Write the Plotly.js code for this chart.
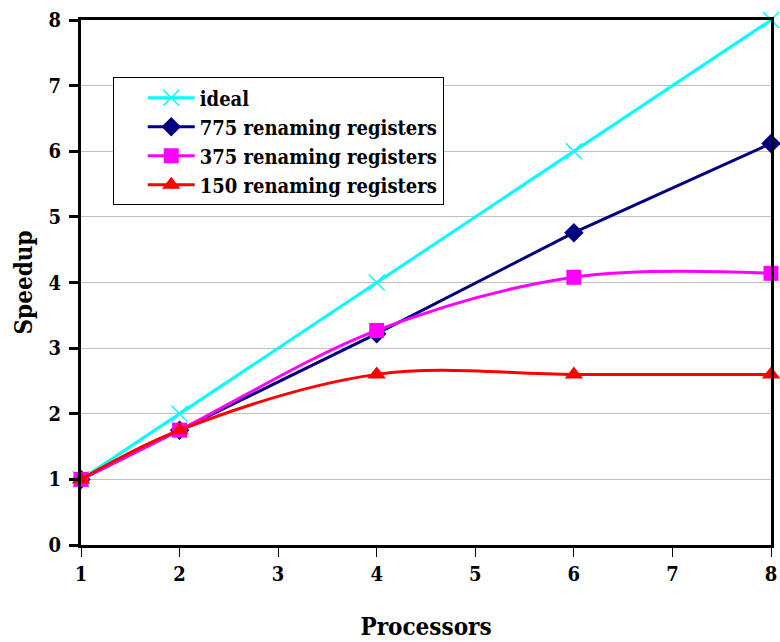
<!DOCTYPE html>
<html>
<head>
<meta charset="utf-8">
<script src="https://cdn.plot.ly/plotly-3.0.1.min.js"></script>
<style>
  html, body { margin: 0; padding: 0; background: #fff; }
  #chart { width: 780px; height: 642px; }
</style>
</head>
<body>
<div id="chart"></div>
<script>
// Processor counts measured
const processors = [1, 2, 4, 6, 8];

// Speedup per configuration
const idealSpeedup = [1, 2, 4, 6, 8];
const speedup775 = [1, 1.75, 3.22, 4.76, 6.12];
const speedup375 = [1, 1.75, 3.27, 4.08, 4.14];
const speedup150 = [1, 1.75, 2.60, 2.60, 2.60];

const seriesNames = [
  'ideal',
  '775 renaming registers',
  '375 renaming registers',
  '150 renaming registers'
];

const xTicks = [1, 2, 3, 4, 5, 6, 7, 8];
const yTicks = [0, 1, 2, 3, 4, 5, 6, 7, 8];

const serif = "'DejaVu Serif Condensed', 'DejaVu Serif', serif";

const traces = [
  {
    x: processors, y: idealSpeedup, name: seriesNames[0],
    mode: 'lines+markers', cliponaxis: false,
    line: { color: '#00FFFF', width: 3 },
    marker: { symbol: 'x-thin', size: 16, line: { color: '#00FFFF', width: 1.5 } }
  },
  {
    x: processors, y: speedup775, name: seriesNames[1],
    mode: 'lines+markers', cliponaxis: false,
    line: { color: '#000080', width: 3 },
    marker: { symbol: 'diamond', size: 15, color: '#000080' }
  },
  {
    x: processors, y: speedup375, name: seriesNames[2],
    mode: 'lines+markers', cliponaxis: false,
    line: { color: '#FF00FF', width: 3, shape: 'spline', smoothing: 1 },
    marker: { symbol: 'square', size: 15, color: '#FF00FF' }
  },
  {
    x: processors, y: speedup150, name: seriesNames[3],
    mode: 'lines+markers', cliponaxis: false,
    line: { color: '#FF0000', width: 3, shape: 'spline', smoothing: 1 },
    marker: { symbol: 'triangle-up', size: 16, color: '#FF0000' }
  }
];

const layout = {
  width: 780, height: 642,
  margin: { l: 81, r: 9, t: 20, b: 97 },
  paper_bgcolor: '#ffffff',
  plot_bgcolor: '#ffffff',
  font: { family: serif, color: '#000' },
  showlegend: true,
  legend: {
    x: 0.046, y: 0.891, xanchor: 'left', yanchor: 'top',
    bgcolor: '#ffffff', bordercolor: '#000', borderwidth: 1,
    font: { family: serif, size: 20, color: '#000', weight: 'bold' },
    itemwidth: 47, indentation: 29, tracegroupgap: 0
  },
  xaxis: {
    range: [1, 8], tickvals: xTicks, ticktext: xTicks.map(String),
    showgrid: false, zeroline: false,
    showline: true, linecolor: '#000', linewidth: 3, mirror: true,
    ticks: 'outside', ticklen: 9, tickwidth: 1, tickcolor: '#000',
    tickfont: { family: serif, size: 20, weight: 'bold' },
    title: { text: 'Processors', font: { family: serif, size: 24, weight: 'bold' }, standoff: 34 },
    fixedrange: true
  },
  yaxis: {
    range: [0, 8], tickvals: yTicks, ticktext: yTicks.map(String),
    showgrid: true, gridcolor: '#c0c0c0', gridwidth: 1, zeroline: false,
    showline: true, linecolor: '#000', linewidth: 3, mirror: true,
    ticks: 'outside', ticklen: 9, tickwidth: 3, tickcolor: '#000',
    tickfont: { family: serif, size: 20, weight: 'bold' },
    ticklabelstandoff: 4,
    title: { text: 'Speedup', font: { family: serif, size: 24, weight: 'bold' }, standoff: 10 },
    fixedrange: true
  }
};

Plotly.newPlot('chart', traces, layout, { displayModeBar: false, staticPlot: true });
</script>
</body>
</html>
